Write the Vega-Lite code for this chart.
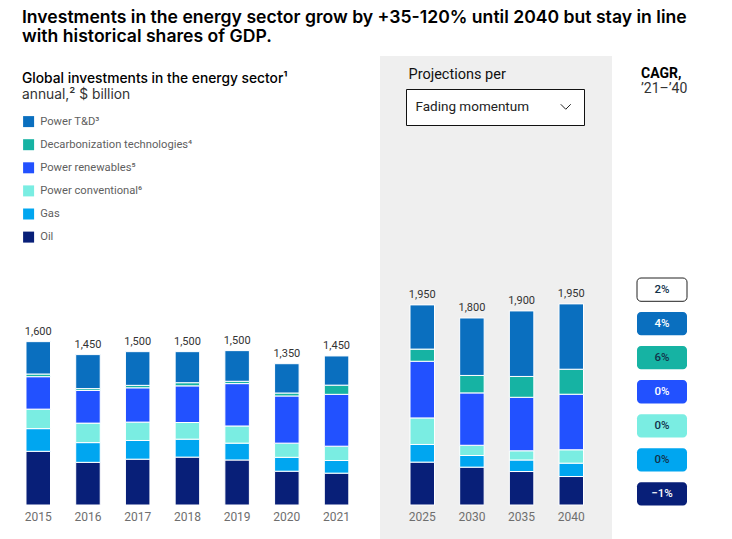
{
  "$schema": "https://vega.github.io/schema/vega-lite/v6.json",
  "padding": {"left": 22, "top": 9, "right": 4, "bottom": 0},
  "background": "white",
  "title": {
    "text": ["Investments in the energy sector grow by +35-120% until 2040 but stay in line", "with historical shares of GDP."],
    "anchor": "start",
    "frame": "group",
    "font": "Inter",
    "fontSize": 17.6,
    "fontWeight": 600,
    "lineHeight": 19,
    "color": "#000000",
    "offset": 10
  },
  "datasets": {
    "segments": [
      {"year": "2015", "period": "Historical", "category": "Oil", "value": 526},
      {"year": "2015", "period": "Historical", "category": "Gas", "value": 222},
      {"year": "2015", "period": "Historical", "category": "Power conventional⁶", "value": 191},
      {"year": "2015", "period": "Historical", "category": "Power renewables⁵", "value": 318},
      {"year": "2015", "period": "Historical", "category": "Decarbonization technologies⁴", "value": 26},
      {"year": "2015", "period": "Historical", "category": "Power T&D³", "value": 317},
      {"year": "2016", "period": "Historical", "category": "Oil", "value": 418},
      {"year": "2016", "period": "Historical", "category": "Gas", "value": 193},
      {"year": "2016", "period": "Historical", "category": "Power conventional⁶", "value": 191},
      {"year": "2016", "period": "Historical", "category": "Power renewables⁵", "value": 320},
      {"year": "2016", "period": "Historical", "category": "Decarbonization technologies⁴", "value": 18},
      {"year": "2016", "period": "Historical", "category": "Power T&D³", "value": 333},
      {"year": "2017", "period": "Historical", "category": "Oil", "value": 449},
      {"year": "2017", "period": "Historical", "category": "Gas", "value": 183},
      {"year": "2017", "period": "Historical", "category": "Power conventional⁶", "value": 180},
      {"year": "2017", "period": "Historical", "category": "Power renewables⁵", "value": 336},
      {"year": "2017", "period": "Historical", "category": "Decarbonization technologies⁴", "value": 24},
      {"year": "2017", "period": "Historical", "category": "Power T&D³", "value": 330},
      {"year": "2018", "period": "Historical", "category": "Oil", "value": 469},
      {"year": "2018", "period": "Historical", "category": "Gas", "value": 176},
      {"year": "2018", "period": "Historical", "category": "Power conventional⁶", "value": 163},
      {"year": "2018", "period": "Historical", "category": "Power renewables⁵", "value": 359},
      {"year": "2018", "period": "Historical", "category": "Decarbonization technologies⁴", "value": 31},
      {"year": "2018", "period": "Historical", "category": "Power T&D³", "value": 304},
      {"year": "2019", "period": "Historical", "category": "Oil", "value": 441},
      {"year": "2019", "period": "Historical", "category": "Gas", "value": 165},
      {"year": "2019", "period": "Historical", "category": "Power conventional⁶", "value": 168},
      {"year": "2019", "period": "Historical", "category": "Power renewables⁵", "value": 415},
      {"year": "2019", "period": "Historical", "category": "Decarbonization technologies⁴", "value": 23},
      {"year": "2019", "period": "Historical", "category": "Power T&D³", "value": 300},
      {"year": "2020", "period": "Historical", "category": "Oil", "value": 331},
      {"year": "2020", "period": "Historical", "category": "Gas", "value": 136},
      {"year": "2020", "period": "Historical", "category": "Power conventional⁶", "value": 139},
      {"year": "2020", "period": "Historical", "category": "Power renewables⁵", "value": 462},
      {"year": "2020", "period": "Historical", "category": "Decarbonization technologies⁴", "value": 29},
      {"year": "2020", "period": "Historical", "category": "Power T&D³", "value": 287},
      {"year": "2021", "period": "Historical", "category": "Oil", "value": 312},
      {"year": "2021", "period": "Historical", "category": "Gas", "value": 124},
      {"year": "2021", "period": "Historical", "category": "Power conventional⁶", "value": 140},
      {"year": "2021", "period": "Historical", "category": "Power renewables⁵", "value": 508},
      {"year": "2021", "period": "Historical", "category": "Decarbonization technologies⁴", "value": 90},
      {"year": "2021", "period": "Historical", "category": "Power T&D³", "value": 286},
      {"year": "2025", "period": "Projection", "scenario": "Fading momentum", "category": "Oil", "value": 420},
      {"year": "2025", "period": "Projection", "scenario": "Fading momentum", "category": "Gas", "value": 173},
      {"year": "2025", "period": "Projection", "scenario": "Fading momentum", "category": "Power conventional⁶", "value": 260},
      {"year": "2025", "period": "Projection", "scenario": "Fading momentum", "category": "Power renewables⁵", "value": 555},
      {"year": "2025", "period": "Projection", "scenario": "Fading momentum", "category": "Decarbonization technologies⁴", "value": 119},
      {"year": "2025", "period": "Projection", "scenario": "Fading momentum", "category": "Power T&D³", "value": 433},
      {"year": "2030", "period": "Projection", "scenario": "Fading momentum", "category": "Oil", "value": 371},
      {"year": "2030", "period": "Projection", "scenario": "Fading momentum", "category": "Gas", "value": 114},
      {"year": "2030", "period": "Projection", "scenario": "Fading momentum", "category": "Power conventional⁶", "value": 100},
      {"year": "2030", "period": "Projection", "scenario": "Fading momentum", "category": "Power renewables⁵", "value": 513},
      {"year": "2030", "period": "Projection", "scenario": "Fading momentum", "category": "Decarbonization technologies⁴", "value": 171},
      {"year": "2030", "period": "Projection", "scenario": "Fading momentum", "category": "Power T&D³", "value": 563},
      {"year": "2035", "period": "Projection", "scenario": "Fading momentum", "category": "Oil", "value": 328},
      {"year": "2035", "period": "Projection", "scenario": "Fading momentum", "category": "Gas", "value": 113},
      {"year": "2035", "period": "Projection", "scenario": "Fading momentum", "category": "Power conventional⁶", "value": 90},
      {"year": "2035", "period": "Projection", "scenario": "Fading momentum", "category": "Power renewables⁵", "value": 524},
      {"year": "2035", "period": "Projection", "scenario": "Fading momentum", "category": "Decarbonization technologies⁴", "value": 204},
      {"year": "2035", "period": "Projection", "scenario": "Fading momentum", "category": "Power T&D³", "value": 642},
      {"year": "2040", "period": "Projection", "scenario": "Fading momentum", "category": "Oil", "value": 279},
      {"year": "2040", "period": "Projection", "scenario": "Fading momentum", "category": "Gas", "value": 131},
      {"year": "2040", "period": "Projection", "scenario": "Fading momentum", "category": "Power conventional⁶", "value": 131},
      {"year": "2040", "period": "Projection", "scenario": "Fading momentum", "category": "Power renewables⁵", "value": 544},
      {"year": "2040", "period": "Projection", "scenario": "Fading momentum", "category": "Decarbonization technologies⁴", "value": 245},
      {"year": "2040", "period": "Projection", "scenario": "Fading momentum", "category": "Power T&D³", "value": 640}
    ],
    "totals": [
      {"year": "2015", "total": 1600},
      {"year": "2016", "total": 1450},
      {"year": "2017", "total": 1500},
      {"year": "2018", "total": 1500},
      {"year": "2019", "total": 1500},
      {"year": "2020", "total": 1350},
      {"year": "2021", "total": 1450},
      {"year": "2025", "total": 1950},
      {"year": "2030", "total": 1800},
      {"year": "2035", "total": 1900},
      {"year": "2040", "total": 1950}
    ],
    "cagr": [
      {"category": "Total", "cagr": 0.02},
      {"category": "Power T&D³", "cagr": 0.04},
      {"category": "Decarbonization technologies⁴", "cagr": 0.06},
      {"category": "Power renewables⁵", "cagr": 0.0},
      {"category": "Power conventional⁶", "cagr": 0.0},
      {"category": "Gas", "cagr": 0.0},
      {"category": "Oil", "cagr": -0.01}
    ]
  },
  "spacing": 24,
  "hconcat": [
    {
      "width": 334,
      "height": 483,
      "title": {
        "text": "Global investments in the energy sector¹",
        "subtitle": "annual,² $ billion",
        "anchor": "start",
        "frame": "group",
        "font": "Inter",
        "fontSize": 13.8,
        "fontWeight": 500,
        "color": "#000000",
        "subtitleFont": "Inter",
        "subtitleFontSize": 13.8,
        "subtitleColor": "#333333",
        "subtitlePadding": 2,
        "offset": -46
      },
      "data": {"name": "segments"},
      "transform": [{"filter": "datum.period === 'Historical'"}],
      "layer": [
        {
          "transform": [{"calculate": "indexof(['Oil','Gas','Power conventional⁶','Power renewables⁵','Decarbonization technologies⁴','Power T&D³'], datum.category)", "as": "stackOrder"}],
          "mark": {"type": "bar", "stroke": "white", "strokeWidth": 1},
          "encoding": {
            "x": {"field": "year", "type": "ordinal", "title": null,
                  "scale": {"paddingInner": 0.507, "paddingOuter": 0.1124, "align": 0.357},
                  "axis": {"offset": -34, "domain": false, "ticks": false, "tickSize": 0, "labelPadding": 6, "labelFontSize": 12, "labelColor": "#6e6e6e", "labelFont": "Roboto", "labelAngle": 0}},
            "y": {"field": "value", "type": "quantitative", "stack": "zero", "scale": {"domain": [-333, 4398], "nice": false, "zero": false}, "axis": null},
            "color": {"field": "category", "type": "nominal",
                      "scale": {"domain": ["Power T&D³", "Decarbonization technologies⁴", "Power renewables⁵", "Power conventional⁶", "Gas", "Oil"],
                                "range": ["#0a6fbf", "#16b3a3", "#2251ff", "#7aede2", "#00a6f0", "#081f78"]},
                      "legend": {"orient": "none", "legendX": 1, "legendY": 60, "title": null, "padding": 0,
                                 "symbolType": "square", "symbolSize": 121, "symbolStrokeWidth": 0,
                                 "labelFont": "Roboto", "labelFontSize": 11.2, "labelColor": "#5f5f5f", "labelOffset": 6, "rowPadding": 10.1}},
            "order": {"field": "stackOrder", "type": "quantitative"}
          }
        },
        {
          "transform": [
            {"aggregate": [{"op": "sum", "field": "value", "as": "barTop"}], "groupby": ["year"]},
            {"lookup": "year", "from": {"data": {"name": "totals"}, "key": "year", "fields": ["total"]}}
          ],
          "mark": {"type": "text", "baseline": "alphabetic", "dy": -7, "font": "Roboto", "fontSize": 11, "color": "#333333"},
          "encoding": {
            "x": {"field": "year", "type": "ordinal"},
            "y": {"field": "barTop", "type": "quantitative"},
            "text": {"field": "total", "type": "quantitative", "format": ","}
          }
        }
      ]
    },
    {
      "width": 232,
      "height": 483,
      "view": {"fill": "#efefef", "stroke": null},
      "title": {
        "text": "Projections per",
        "anchor": "start",
        "frame": "group",
        "font": "Roboto",
        "fontSize": 14.5,
        "fontWeight": 400,
        "color": "#111111",
        "dx": 28.5,
        "offset": -26
      },
      "data": {"name": "segments"},
      "transform": [{"filter": "datum.period === 'Projection'"}],
      "layer": [
        {
          "transform": [{"calculate": "indexof(['Oil','Gas','Power conventional⁶','Power renewables⁵','Decarbonization technologies⁴','Power T&D³'], datum.category)", "as": "stackOrder"}],
          "mark": {"type": "bar", "stroke": "white", "strokeWidth": 1},
          "encoding": {
            "x": {"field": "year", "type": "ordinal", "title": null,
                  "scale": {"paddingInner": 0.507, "paddingOuter": 0.589, "align": 0.513},
                  "axis": {"offset": -34, "domain": false, "ticks": false, "tickSize": 0, "labelPadding": 6, "labelFontSize": 12, "labelColor": "#6e6e6e", "labelFont": "Roboto", "labelAngle": 0}},
            "y": {"field": "value", "type": "quantitative", "stack": "zero", "scale": {"domain": [-333, 4398], "nice": false, "zero": false}, "axis": null},
            "color": {"field": "category", "type": "nominal"},
            "opacity": {"field": "scenario", "type": "nominal", "scale": {"range": [1, 1]},
                        "legend": {"orient": "none", "legendX": 384, "legendY": 33, "title": null,
                                   "fillColor": "white", "strokeColor": "#111111", "padding": 11,
                                   "labelFont": "Roboto", "labelFontSize": 13.5, "labelColor": "#222222", "labelOffset": -157,
                                   "symbolType": "M-1,-0.5L0,0.5L1,-0.5", "symbolSize": 100, "symbolFillColor": "transparent",
                                   "symbolStrokeColor": "#222222", "symbolStrokeWidth": 1, "symbolOffset": 142}},
            "order": {"field": "stackOrder", "type": "quantitative"}
          }
        },
        {
          "transform": [
            {"aggregate": [{"op": "sum", "field": "value", "as": "barTop"}], "groupby": ["year"]},
            {"lookup": "year", "from": {"data": {"name": "totals"}, "key": "year", "fields": ["total"]}}
          ],
          "mark": {"type": "text", "baseline": "alphabetic", "dy": -7, "font": "Roboto", "fontSize": 11, "color": "#333333"},
          "encoding": {
            "x": {"field": "year", "type": "ordinal"},
            "y": {"field": "barTop", "type": "quantitative"},
            "text": {"field": "total", "type": "quantitative", "format": ","}
          }
        }
      ]
    },
    {
      "width": 50,
      "height": 483,
      "title": {
        "text": "CAGR,",
        "subtitle": "’21–’40",
        "anchor": "start",
        "frame": "group",
        "font": "Roboto",
        "fontSize": 14,
        "fontWeight": 700,
        "color": "#000000",
        "subtitleFont": "Roboto",
        "subtitleFontSize": 14,
        "subtitleColor": "#333333",
        "subtitlePadding": 1,
        "dx": 4,
        "offset": -40
      },
      "data": {"name": "cagr"},
      "layer": [
        {
          "mark": {"type": "rect", "cornerRadius": 4, "strokeWidth": 1},
          "encoding": {
            "y": {"field": "category", "type": "nominal", "axis": null,
                  "scale": {"domain": ["Total", "Power T&D³", "Decarbonization technologies⁴", "Power renewables⁵", "Power conventional⁶", "Gas", "Oil"],
                            "range": [222, 449.5], "paddingInner": 0.315, "paddingOuter": 0}},
            "fill": {"field": "category", "type": "nominal", "legend": null,
                     "scale": {"domain": ["Total", "Power T&D³", "Decarbonization technologies⁴", "Power renewables⁵", "Power conventional⁶", "Gas", "Oil"],
                               "range": ["#ffffff", "#0a6fbf", "#16b3a3", "#2251ff", "#7aede2", "#00a6f0", "#081f78"]}},
            "stroke": {"condition": {"test": "datum.category === 'Total'", "value": "#222222"}, "value": null}
          }
        },
        {
          "mark": {"type": "text", "font": "Roboto", "fontSize": 11.5, "fontWeight": 500},
          "encoding": {
            "y": {"field": "category", "type": "nominal"},
            "text": {"field": "cagr", "type": "quantitative", "format": ".0%"},
            "color": {"condition": {"test": "indexof(['Power T&D³','Power renewables⁵','Oil'], datum.category) >= 0", "value": "#ffffff"}, "value": "#12324a"}
          }
        }
      ]
    }
  ],
  "config": {
    "view": {"stroke": null},
    "font": "Roboto"
  }
}
